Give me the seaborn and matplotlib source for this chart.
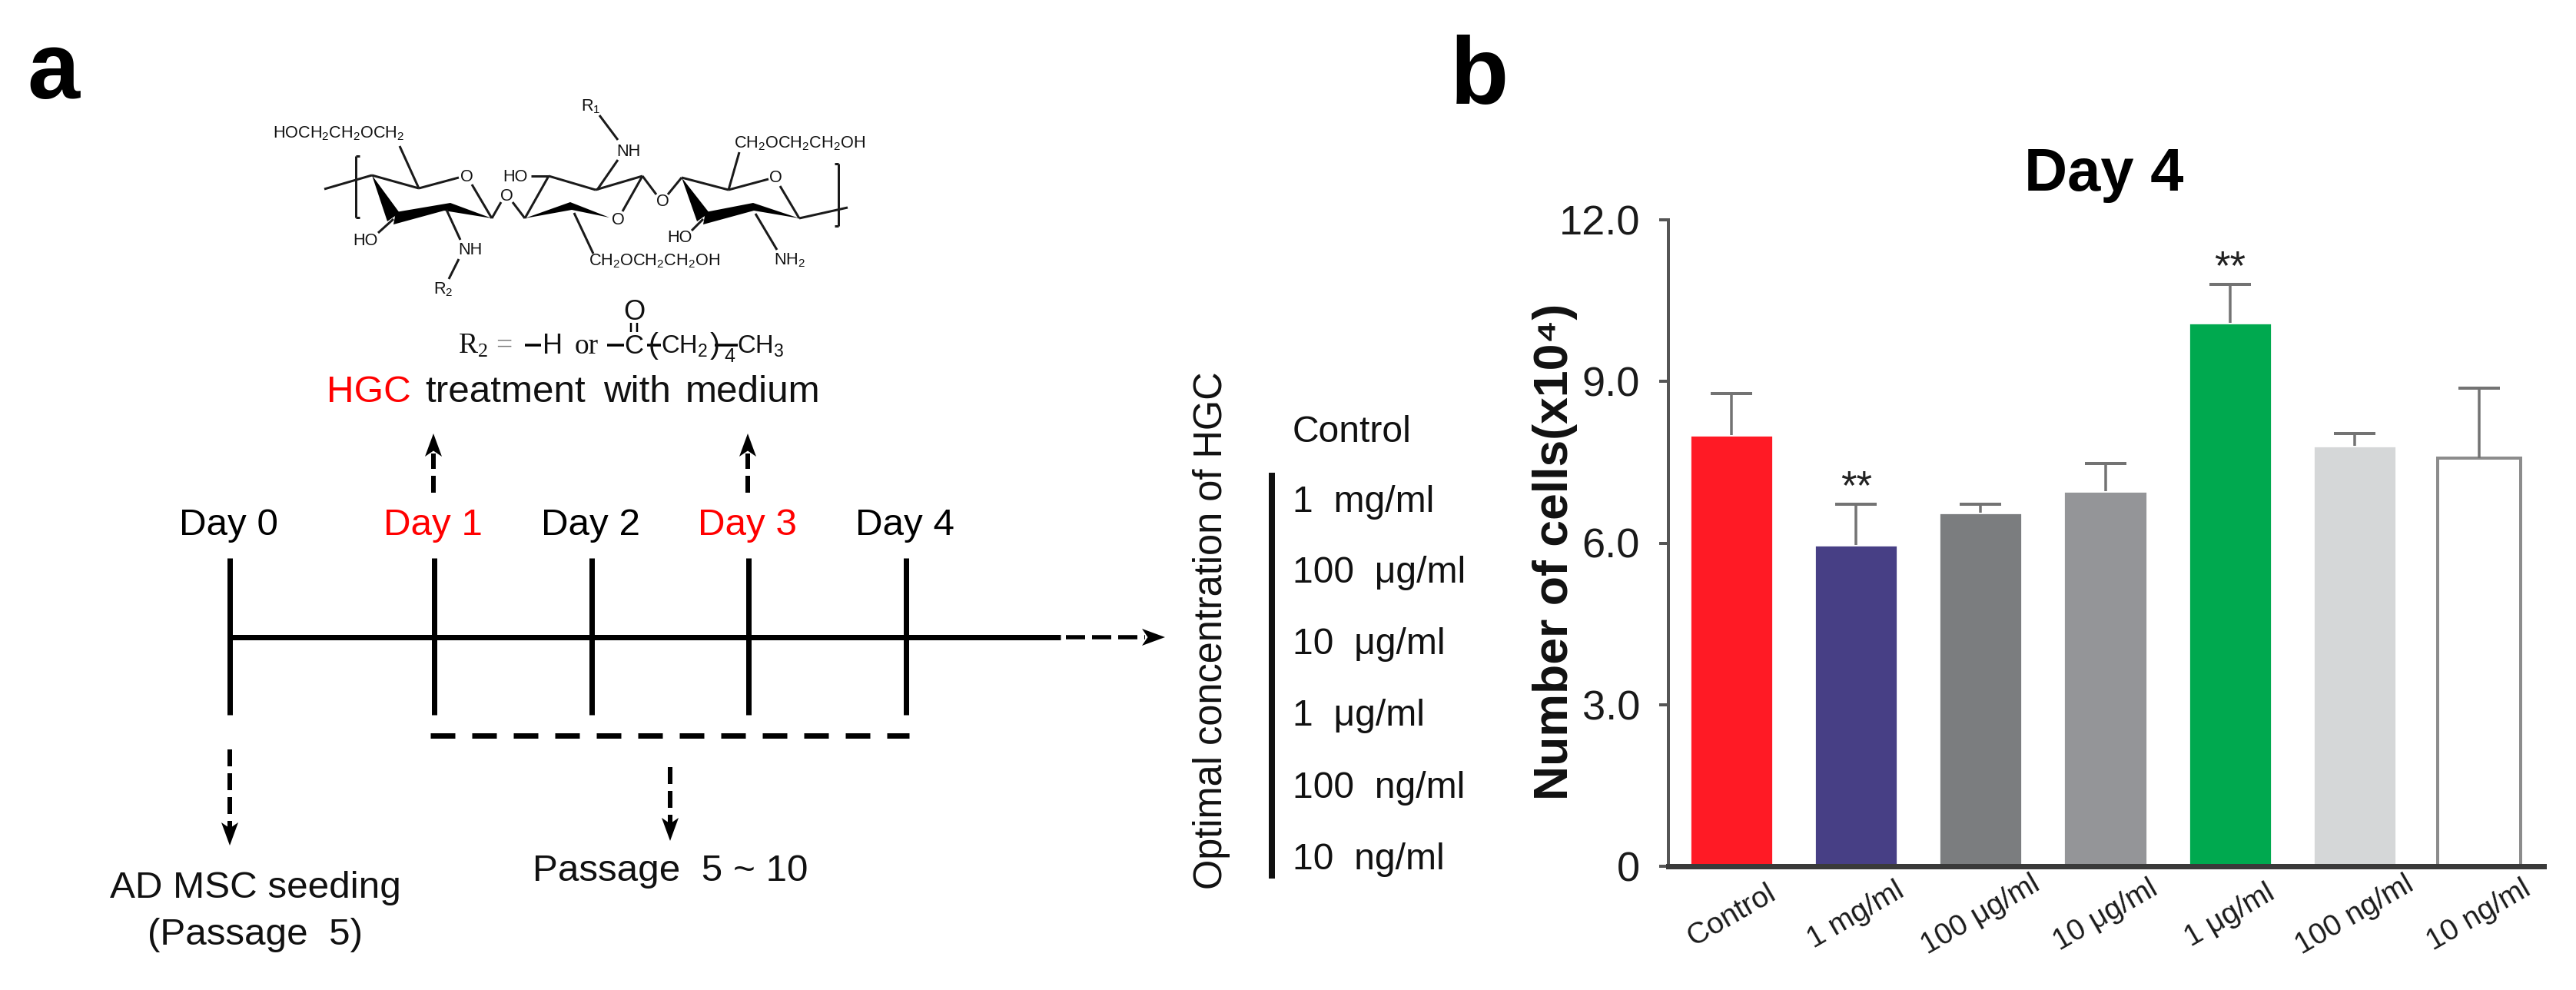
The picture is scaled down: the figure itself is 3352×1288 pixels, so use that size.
import pandas as pd
import matplotlib.pyplot as plt
import seaborn as sns

W, H = 3352, 1288
PX = 72 / 200  # 1 output pixel in points

groups = ["Control", "1 mg/ml", "100 μg/ml", "10 μg/ml", "1 μg/ml", "100 ng/ml", "10 ng/ml"]
cell_counts = [8.01, 5.97, 6.56, 6.96, 10.09, 7.81, 7.57]
upper_errors = [0.76, 0.75, 0.16, 0.51, 0.71, 0.22, 1.31]
bar_colors = ["#FF1A25", "#473F85", "#7B7D7F", "#949598", "#00A94F", "#D5D7D8", "#FFFFFF"]
significant = ["1 mg/ml", "1 μg/ml"]
y_ticks = [0, 3, 6, 9, 12]
y_tick_labels = ["0", "3.0", "6.0", "9.0", "12.0"]

days = ["Day 0", "Day 1", "Day 2", "Day 3", "Day 4"]
day_colors = ["black", "red", "black", "red", "black"]
concentrations = ["Control", "1 mg/ml", "100 μg/ml", "10 μg/ml", "1 μg/ml", "100 ng/ml", "10 ng/ml"]

sns.set_style("white")
plt.rcParams["font.family"] = ["Liberation Sans", "DejaVu Sans"]
plt.rcParams["mathtext.default"] = "regular"

fig = plt.figure(figsize=(W / 200, H / 200), dpi=200, facecolor="white")

### panel a, drawn in pixel coordinates
bg = fig.add_axes([0, 0, 1, 1])
bg.set_xlim(0, W)
bg.set_ylim(H, 0)
bg.axis("off")


def txt(x, y, s, size=17.8, color="#111111", ha="left", **kw):
    bg.text(x, y, s, fontsize=size, color=color, ha=ha, va="baseline", **kw)


def line(xs, ys, w=7, color="black", dash=None):
    ls = "-" if dash is None else (0, (dash[0] / w, dash[1] / w))
    bg.plot(xs, ys, color=color, lw=w * PX, ls=ls, solid_capstyle="butt", dash_capstyle="butt")


def head(tip, direction, long=30, half=11):
    x, y = tip
    dx, dy = direction
    pts = [(x, y), (x - dx * long - dy * half, y - dy * long - dx * half),
           (x - dx * long * 0.75, y - dy * long * 0.75),
           (x - dx * long + dy * half, y - dy * long + dx * half)]
    bg.fill([p[0] for p in pts], [p[1] for p in pts], color="black", lw=0)


txt(35, 128, "a", size=44, color="black", weight="bold")
txt(1887, 135, "b", size=45, color="black", weight="bold")

# timeline
day_x = [299, 565, 770, 974, 1179]
line([299, 1380], [829, 829])
for x, d, c in zip(day_x, days, day_colors):
    line([x, x], [726, 930], w=7)
    txt(x - 2, 696, d, color=c, ha="center")
line([1387, 1490], [829, 829], w=5.5, dash=(25, 9))
head((1516, 829), (1, 0))
line([560, 1183], [957, 957], dash=(32, 22))

for x in [564, 973]:
    line([x, x], [641, 590], w=6, dash=(22, 9))
    head((x, 564), (0, -1))
line([299, 299], [975, 1080], w=6, dash=(22, 9))
head((299, 1100), (0, 1))
line([872, 872], [998, 1075], w=6, dash=(22, 9))
head((872, 1094), (0, 1))

txt(332, 1168, "AD MSC seeding", ha="center")
txt(332, 1229, "(Passage  5)", ha="center")
txt(872, 1146, "Passage  5 ~ 10", ha="center")

# HGC line, words placed one by one for the wide gaps
txt(425, 523, "HGC", color="red")
txt(553, 523, "treatment")
txt(785, 523, "with")
txt(892, 523, "medium")

# concentration list
bg.text(1590, 820, "Optimal concentration of HGC", fontsize=18.2, color="#111111", rotation=90,
        rotation_mode="anchor", ha="center", va="baseline")
line([1655, 1655], [615, 1143], w=8, color="#111111")
for y, c in zip([575, 666, 758, 851, 944, 1038, 1131], concentrations):
    txt(1682, y, c.replace(" ", "  "), size=17.3)

# R2 formula
txt(596, 460, "R$_2$", size=13.5, family="Liberation Serif")
txt(645, 460, "=", size=13.5, family="Liberation Serif", color="#777777")
line([683, 704], [449, 449], w=3.5)
txt(706, 460, "H", size=13)
txt(748, 460, "or", size=13.5, family="Liberation Serif")
line([790, 812], [449, 449], w=3.5)
txt(812, 460, "C", size=12.5)
txt(825, 416, "O", size=13, ha="center")
line([821, 821], [420, 432], w=2.5)
line([829, 829], [420, 432], w=2.5)
txt(844, 460, "(", size=14)
line([842, 860], [449, 449], w=3.5)
txt(860, 460, "CH$_2$", size=11.8)
txt(924, 460, ")", size=14)
txt(942, 471, "4", size=9)
line([930, 960], [449, 449], w=3.5)
txt(959, 460, "CH$_3$", size=11.8)

# HGC structure
thin = [
    ((422, 246), (484, 228)), ((484, 228), (545, 245)), ((545, 245), (597, 231)), ((614, 240), (640, 284)),
    ((520, 190), (545, 245)), ((512, 285), (492, 303)), ((581, 273), (599, 312)), ((597, 337), (584, 363)),
    ((640, 284), (652, 263)), ((667, 263), (683, 284)),
    ((683, 284), (714, 229)), ((691, 229), (714, 229)), ((714, 229), (775, 247)), ((775, 247), (836, 229)),
    ((836, 229), (810, 275)), ((747, 277), (772, 330)), ((777, 247), (804, 208)), ((804, 182), (780, 150)),
    ((836, 229), (854, 253)), ((869, 253), (887, 231)),
    ((887, 231), (948, 247)), ((948, 247), (1000, 233)), ((1015, 242), (1040, 284)), ((948, 247), (962, 198)),
    ((1040, 284), (1103, 270)), ((915, 285), (900, 300)), ((983, 278), (1011, 325)),
    ((463, 203), (463, 283)), ((463, 203), (468, 203)), ((463, 283), (468, 283)),
    ((1091, 213), (1091, 294)), ((1086, 213), (1091, 213)), ((1086, 294), (1091, 294)),
]
for a, b in thin:
    line([a[0], b[0]], [a[1], b[1]], w=3, color="#1a1a1a")

wedges = [
    [(484, 228), (520, 277), (504, 288)],
    [(515, 276), (586, 264), (640, 284), (578, 274), (512, 292)],
    [(683, 284), (742, 263), (793, 283), (744, 273)],
    [(887, 231), (923, 277), (907, 288)],
    [(918, 276), (980, 264), (1040, 284), (981, 274), (915, 292)],
]
for w in wedges:
    bg.fill([p[0] for p in w], [p[1] for p in w], color="black", lw=0)

atoms = [
    (441, 179, "HOCH$_2$CH$_2$OCH$_2$"), (607, 236, "O"), (475, 319, "HO"), (612, 331, "NH"), (577, 382, "R$_2$"),
    (659, 261, "O"), (670, 236, "HO"), (804, 292, "O"), (851, 345, "CH$_2$OCH$_2$CH$_2$OH"), (818, 203, "NH"),
    (769, 144, "R$_1$"), (862, 268, "O"), (1009, 237, "O"), (1040, 192, "CH$_2$OCH$_2$CH$_2$OH"),
    (884, 315, "HO"), (1028, 344, "NH$_2$"),
]
for x, y, s in atoms:
    txt(x, y, s, size=7.8, ha="center", color="#111111")

### panel b
df = pd.DataFrame({"group": groups, "cells": cell_counts})
ax = fig.add_axes([2171 / W, 1 - 1127 / H, (3310 - 2171) / W, (1127 - 286) / H])
ax.patch.set_alpha(0)
sns.barplot(data=df, x="group", y="cells", hue="group", palette=bar_colors, saturation=1,
            width=0.666, legend=False, ax=ax)

last = ax.patches[len(groups) - 1]
last.set_edgecolor("#8C8C8C")
last.set_linewidth(4 * PX)

_, caps, _ = ax.errorbar(range(len(groups)), cell_counts, yerr=[[0] * len(groups), upper_errors], fmt="none",
                         ecolor="#737373", elinewidth=3.5 * PX, capsize=27 * PX, capthick=4 * PX, zorder=1)
caps[0].set_visible(False)

for g in significant:
    i = groups.index(g)
    ax.text(i, cell_counts[i] + upper_errors[i] + 0.1, "**", fontsize=19, ha="center", va="baseline", color="#222222")

ax.set_xlim(-82 / 162.2, 6 + 84 / 162.2)
ax.set_ylim(0, 12)
ax.set_yticks(y_ticks, y_tick_labels)
ax.set_xticks(range(len(groups)), groups, rotation=30, ha="center", va="center")
ax.tick_params(axis="y", length=12 * PX, width=4 * PX, color="#555555", pad=9, labelsize=19.5, labelcolor="#1a1a1a", left=True)
ax.tick_params(axis="x", length=0, pad=23, labelsize=14, labelcolor="#1a1a1a")
tk = ax.xaxis.get_major_ticks()[3].tick1line
tk.set_markersize(16 * PX)
tk.set_markeredgewidth(3 * PX)
tk.set_markeredgecolor("#777777")
ax.set_xlabel("")
ax.set_ylabel("")
sns.despine(ax=ax)
ax.spines["left"].set_linewidth(4 * PX)
ax.spines["left"].set_color("#555555")
ax.spines["bottom"].set_linewidth(7 * PX)
ax.spines["bottom"].set_color("#3A3A3A")

# labels sit on the figure so they can be placed against the reference
txt(2738, 248, "Day 4", size=28, color="black", ha="center", weight="bold")
bg.text(2040, 718, "Number of cells(x10⁴)", fontsize=22.5, weight="bold", color="#111111", rotation=90,
        rotation_mode="anchor", ha="center", va="baseline")

fig.savefig("out.png", dpi=200, facecolor="white")
